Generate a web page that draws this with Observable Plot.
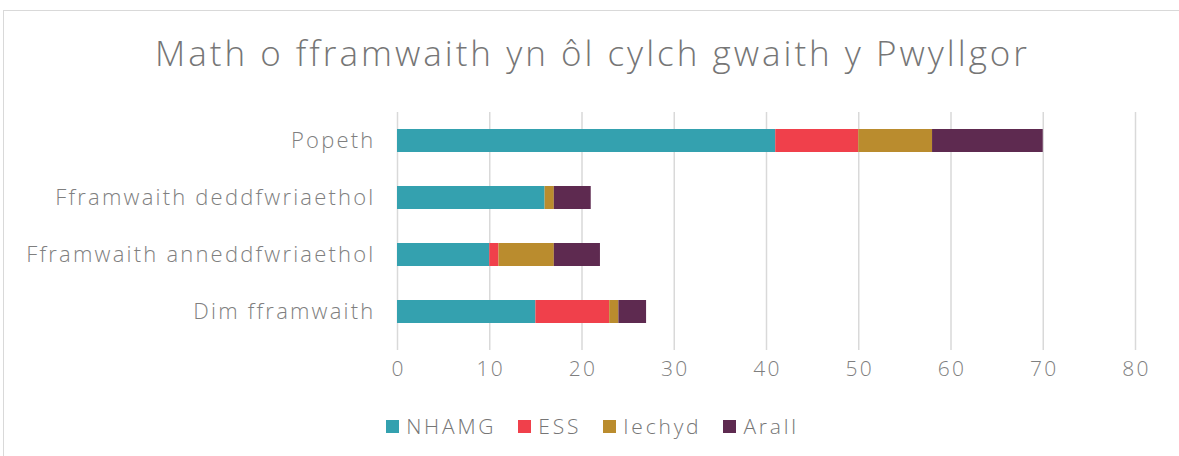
<!DOCTYPE html>
<html><head><meta charset="utf-8">
<script src="https://cdn.jsdelivr.net/npm/d3@7"></script>
<script src="https://cdn.jsdelivr.net/npm/@observablehq/plot@0.6"></script>
<style>
body{margin:0;background:#fff;font-family:"Open Sans",sans-serif;overflow:hidden;}
#frame{position:absolute;left:3px;top:10px;width:1185px;height:460px;border:1.5px solid #d9d9d9;box-sizing:border-box;}
#title{position:absolute;left:3px;top:29px;width:1179px;text-align:center;font-size:35px;letter-spacing:3px;color:#767676;font-weight:300;}
#chart{position:absolute;left:0;top:100px;}
#legend{position:absolute;left:3px;top:412px;width:1179px;display:flex;justify-content:center;font-size:21px;letter-spacing:2.8px;color:#767676;font-weight:300;}
.item{display:flex;align-items:center;margin:0 11px;}
.sw{width:13px;height:13px;margin-right:7px;}
svg text{font-weight:300;}
</style></head><body>
<div id="frame"></div>
<div id="title">Math o fframwaith yn ôl cylch gwaith y Pwyllgor</div>
<div id="chart"></div>
<div id="legend"></div>
<script>
const categories = ["Popeth","Fframwaith deddfwriaethol","Fframwaith anneddfwriaethol","Dim fframwaith"];
const seriesNames = ["NHAMG","ESS","Iechyd","Arall"];
const colors = ["#34A1AF","#F0404B","#BA8C2E","#5E2A50"];
const NHAMG = [41,16,10,15];
const ESS = [9,0,1,8];
const Iechyd = [8,1,6,1];
const Arall = [12,4,5,3];
const xTicks = [0,10,20,30,40,50,60,70,80];

const seriesVals = [NHAMG, ESS, Iechyd, Arall];
const data = [];
seriesNames.forEach((s,i)=>categories.forEach((c,j)=>data.push({cat:c, series:s, value:seriesVals[i][j]})));

const plot = Plot.plot({
  width:1179, height:300,
  marginLeft:397, marginRight:44, marginTop:12, marginBottom:50,
  style:{fontFamily:"Open Sans, sans-serif", fontSize:"21px", color:"#7f7f7f", background:"transparent", letterSpacing:"2.2px"},
  x:{domain:[0,80], ticks:xTicks, label:null},
  y:{domain:categories, range:[10,241], paddingInner:0.6, paddingOuter:0.3, label:null},
  color:{domain:seriesNames, range:colors},
  marks:[
    Plot.ruleX(xTicks,{stroke:"#d9d9d9", strokeWidth:1.5}),
    Plot.barX(data, Plot.stackX({x:"value", y:"cat", fill:"series", order:seriesNames})),
    Plot.axisX({ticks:xTicks, tickSize:0, tickPadding:11, fill:"#7f7f7f", label:null, dx:1}),
    Plot.axisY({tickSize:0, tickPadding:22, fill:"#7f7f7f", label:null, fontSize:22, style:{letterSpacing:"2.3px"}})
  ]
});
document.getElementById("chart").appendChild(plot);
const lg = document.getElementById("legend");
seriesNames.forEach((s,i)=>{
  const it=document.createElement("div");it.className="item";
  it.innerHTML=`<div class="sw" style="background:${colors[i]}"></div><span>${s}</span>`;
  lg.appendChild(it);
});
</script>
</body></html>
